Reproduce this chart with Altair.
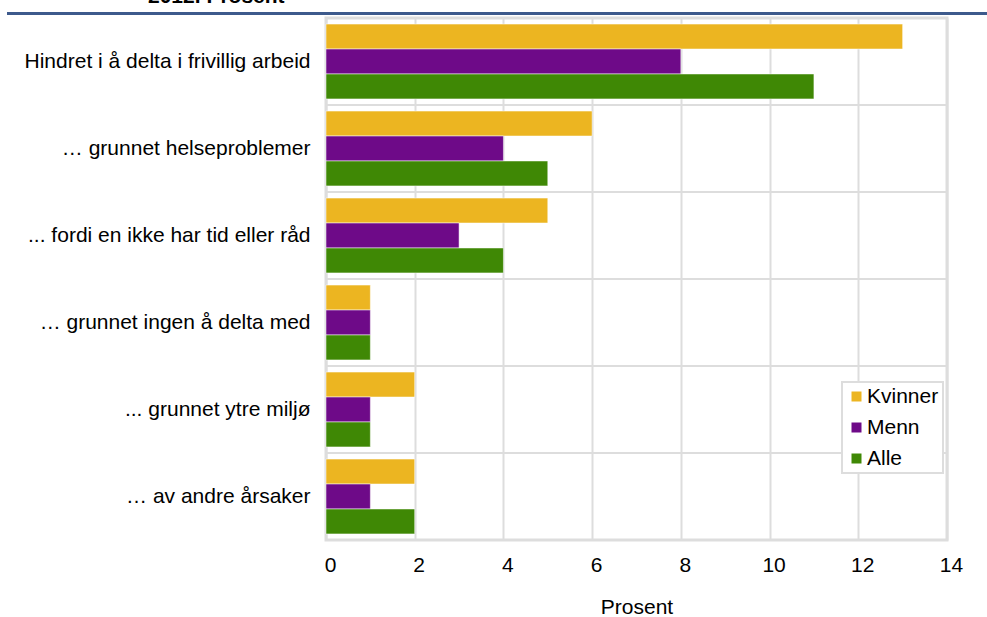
import altair as alt
import pandas as pd

# Reasons for being prevented from volunteer work, by sex
categories = [
    "Hindret i å delta i frivillig arbeid",
    "… grunnet helseproblemer",
    "... fordi en ikke har tid eller råd",
    "… grunnet ingen å delta med\u00a0",
    "... grunnet ytre miljø",
    "… av andre årsaker",
]
series = ["Kvinner", "Menn", "Alle"]
kvinner = [13, 6, 5, 1, 2, 2]
menn = [8, 4, 3, 1, 1, 1]
alle = [11, 5, 4, 1, 1, 2]
x_ticks = [0, 2, 4, 6, 8, 10, 12, 14]
colors = ["#ECB521", "#6E0A88", "#3F8805"]

FONT = "Liberation Sans"
GRID = "#dddddd"
PLOT_W, PLOT_H = 621, 522
PAD_INNER = 0.14

rows = []
for s, vals in zip(series, [kvinner, menn, alle]):
    for c, v in zip(categories, vals):
        rows.append({"kategori": c, "gruppe": s, "prosent": v})
df = pd.DataFrame(rows)

y_scale = alt.Scale(domain=categories, paddingInner=PAD_INNER, paddingOuter=PAD_INNER / 2)

bars = alt.Chart(df).mark_bar(stroke="white", strokeWidth=1, strokeOpacity=0.5).encode(
    x=alt.X(
        "prosent:Q",
        scale=alt.Scale(domain=[0, 14], nice=False),
        axis=alt.Axis(
            values=x_ticks,
            title="Prosent",
            grid=True,
            gridColor=GRID,
            gridWidth=2,
            ticks=False,
            domain=False,
            labelFlush=False,
            labelOffset=4,
            labelFontSize=21,
            labelFont=FONT,
            labelColor="black",
            labelPadding=14,
            titleFont=FONT,
            titleFontSize=21,
            titleFontWeight="normal",
            titleColor="black",
            titlePadding=21,
        ),
    ),
    y=alt.Y(
        "kategori:N",
        scale=y_scale,
        sort=categories,
        axis=alt.Axis(
            title=None,
            grid=False,
            ticks=False,
            domain=False,
            labelFontSize=21,
            labelFont=FONT,
            labelColor="black",
            labelLimit=500,
            labelPadding=16,
        ),
    ),
    yOffset=alt.YOffset("gruppe:N", sort=series, scale=alt.Scale(domain=series)),
    color=alt.Color(
        "gruppe:N",
        scale=alt.Scale(domain=series, range=colors),
        sort=series,
        legend=alt.Legend(
            title=None,
            orient="none",
            legendX=516,
            legendY=364,
            direction="vertical",
            symbolType="square",
            symbolSize=100,
            symbolStrokeWidth=0,
            symbolOpacity=1,
            labelFontSize=21,
            labelFont=FONT,
            labelColor="black",
            labelOffset=0,
            rowPadding=9,
            padding=4,
            symbolOffset=0,
            fillColor="white",
            strokeColor=GRID,
        ),
    ),
)

# horizontal separators between category bands
sep = alt.Chart(pd.DataFrame({"kategori": categories})).mark_rule(
    color=GRID, strokeWidth=2, yOffset=-(PLOT_H / len(categories)) * PAD_INNER / 2
).encode(y=alt.Y("kategori:N", scale=y_scale, sort=categories, bandPosition=0))

one = pd.DataFrame({"k": [0]})
top_line = alt.Chart(one).mark_rule(color="#3D5A8C", strokeWidth=3).encode(
    x=alt.value(-319), x2=alt.value(661), y=alt.value(-4.5)
)
heading = alt.Chart(one).mark_text(
    text="2012. Prosent", font=FONT, fontSize=21, fontWeight="bold",
    align="left", baseline="alphabetic", color="black",
).encode(x=alt.value(-178), y=alt.value(-15))

chart = (
    alt.layer(sep, bars, top_line, heading)
    .properties(
        width=PLOT_W,
        height=PLOT_H,
        autosize=alt.AutoSizeParams(type="none"),
        padding={"left": 326, "top": 18, "right": 40, "bottom": 77},
        background="white",
    )
    .configure_view(stroke=GRID, strokeWidth=3)
    .configure_legend(strokeWidth=2)
)

chart.save("out.html", embed_options={"renderer": "svg", "actions": False})
